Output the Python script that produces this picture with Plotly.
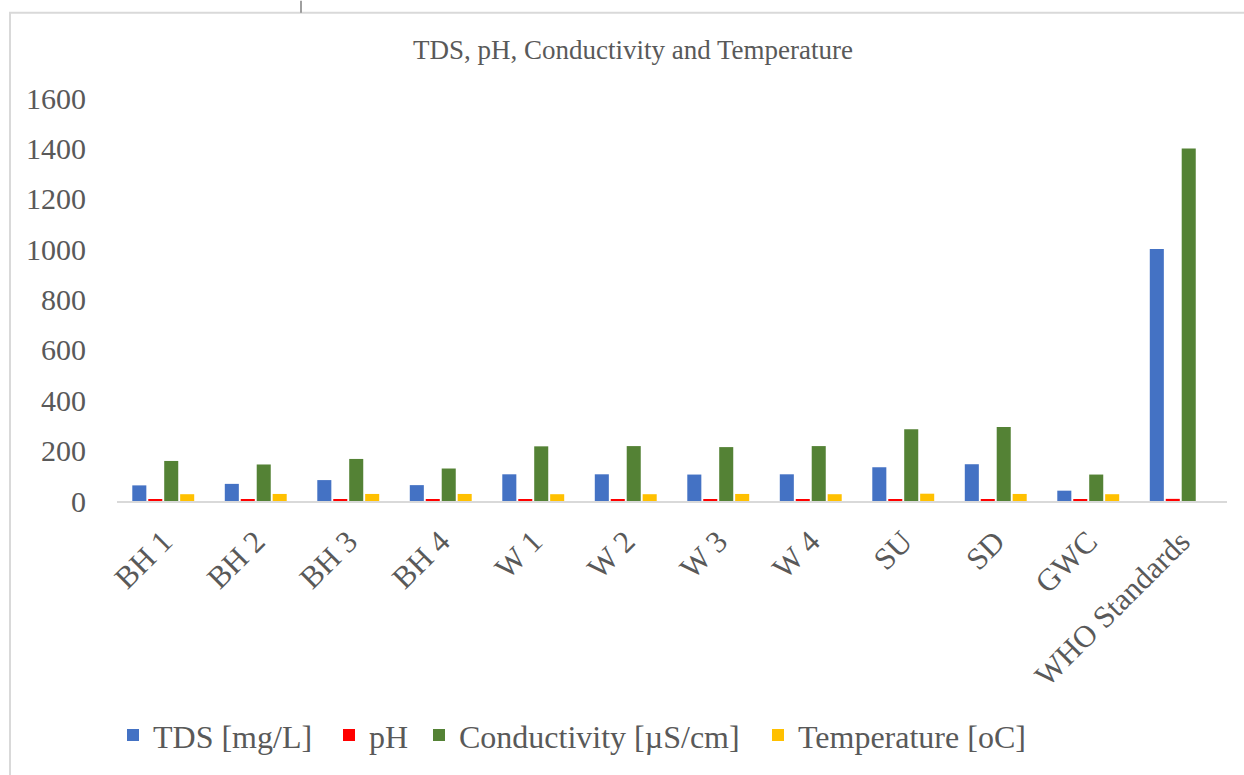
import plotly.graph_objects as go

categories = ["BH 1", "BH 2", "BH 3", "BH 4", "W 1", "W 2", "W 3", "W 4", "SU", "SD", "GWC", "WHO Standards"]
tds = [62, 68, 83, 63, 106, 106, 105, 106, 134, 146, 41, 1000]
ph = [7.2, 7.0, 6.5, 7.1, 7.0, 7.1, 6.4, 6.6, 6.9, 7.0, 6.5, 8.5]
conductivity = [159, 145, 167, 129, 217, 218, 214, 218, 285, 294, 105, 1400]
temperature = [27, 28, 28, 28, 27, 27, 28, 27, 29, 28, 27, None]

series_names = ["TDS [mg/L]", "pH", "Conductivity [µS/cm]", "Temperature [oC]"]
series_values = [tds, ph, conductivity, temperature]
series_colors = ["#4472C4", "#FF0000", "#548235", "#FFC000"]

W, H = 1244, 775
PL, PR, PT, PB = 117, 1227, 98, 504  # plot area in screen px
pw, ph_ = PR - PL, PB - PT
font_family = "Liberation Serif, Times New Roman, serif"
grey = "#595959"

legend_keys = ["legend", "legend2", "legend3", "legend4"]
legend_text_start = [153, 369, 459, 798]  # screen px

fig = go.Figure()
for name, vals, color, lk in zip(series_names, series_values, series_colors, legend_keys):
    fig.add_trace(go.Bar(x=categories, y=vals, name=name, marker_color=color,
                         marker_line_width=0, legend=lk))

layout_legends = {}
for lk, ts in zip(legend_keys, legend_text_start):
    layout_legends[lk] = dict(orientation="h", x=(ts - 40 - PL) / pw, xanchor="left",
                              y=(PB - 740) / ph_, yanchor="middle",
                              font=dict(size=32, color=grey, family=font_family),
                              borderwidth=0, bgcolor="rgba(0,0,0,0)")

fig.update_layout(
    width=W, height=H,
    margin=dict(l=PL, r=W - PR, t=PT, b=H - PB),
    paper_bgcolor="white", plot_bgcolor="white",
    barmode="group", bargap=0.31, bargroupgap=0.12,
    font=dict(family=font_family, color=grey),
    title=dict(text="TDS, pH, Conductivity and Temperature", xref="paper",
               x=(633 - PL) / pw, xanchor="center",
               y=1 - 50 / H, yanchor="middle", font=dict(size=27, color=grey)),
    showlegend=True,
    xaxis=dict(tickangle=-45, tickfont=dict(size=31, color=grey), automargin=False,
               showline=True, linecolor="#D9D9D9", linewidth=2,
               ticks="outside", ticklen=8, tickcolor="rgba(0,0,0,0)",
               showgrid=False),
    yaxis=dict(range=[0, 1600], dtick=200, tickfont=dict(size=30, color=grey),
               automargin=False, showgrid=False, zeroline=False, showline=False,
               ticks="outside", ticklen=24, tickcolor="rgba(0,0,0,0)"),
    **layout_legends,
)

# chart-area border (left and top edges visible) and small mark above it
fig.add_shape(type="rect", xref="paper", yref="paper",
              x0=(10 - PL) / pw, x1=(1300 - PL) / pw,
              y0=(PB - 800) / ph_, y1=(PB - 12) / ph_,
              line=dict(color="#D9D9D9", width=2), fillcolor="rgba(0,0,0,0)", layer="below")
fig.add_shape(type="line", xref="paper", yref="paper",
              x0=(301 - PL) / pw, x1=(301 - PL) / pw,
              y0=(PB - 0) / ph_, y1=(PB - 12) / ph_,
              line=dict(color="#7F7F7F", width=1.5))

fig.write_html(
    "out.html",
    config={"displayModeBar": False},
    post_script=(
        "document.body.style.margin='0';"
        "document.body.style.overflow='hidden';"
        "document.documentElement.style.overflow='hidden';"
    ),
)
